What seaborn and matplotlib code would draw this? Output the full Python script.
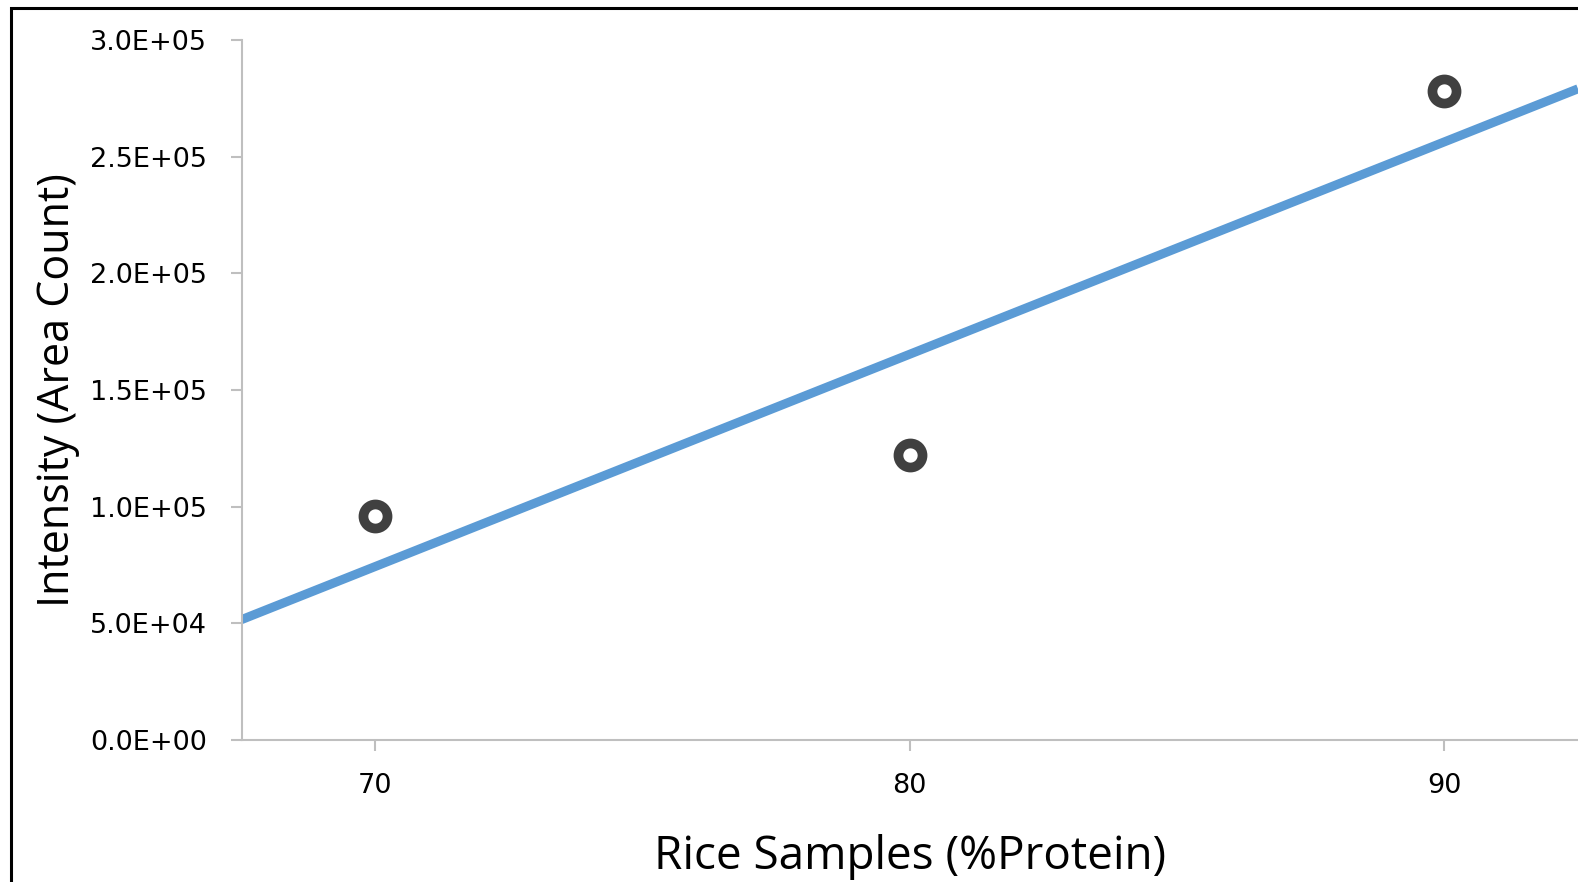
import matplotlib
matplotlib.use("Agg")
import matplotlib.pyplot as plt
from matplotlib.patches import Rectangle
from matplotlib.ticker import FuncFormatter
import seaborn as sns
import pandas as pd

protein = [70, 80, 90]
intensity = [96000, 122000, 278000]
x_ticks = [70, 80, 90]
y_ticks = [0, 50000, 100000, 150000, 200000, 250000, 300000]

df = pd.DataFrame({"protein": protein, "intensity": intensity})

sns.set_style("white")
plt.rcParams["font.family"] = ["Open Sans", "DejaVu Sans"]

fig = plt.figure(figsize=(15.78, 8.82), dpi=100)
ax = fig.add_axes([241.5 / 1578, 1 - 740 / 882, 1 - 241.5 / 1578, (740 - 40) / 882])

ax.set_xlim(67.5, 92.5)
ax.set_ylim(0, 300000)

# trend line across the whole axis, like an Excel linear trendline
sns.regplot(
    data=df,
    x="protein",
    y="intensity",
    scatter=False,
    ci=None,
    truncate=False,
    line_kws={"color": "#5b9bd5", "linewidth": 6.5, "solid_capstyle": "butt"},
    ax=ax,
)
sns.scatterplot(
    data=df,
    x="protein",
    y="intensity",
    s=300,
    color="white",
    edgecolor="#404040",
    linewidth=7,
    zorder=3,
    ax=ax,
)

ax.set_xlim(67.5, 92.5)
ax.set_ylim(0, 300000)
ax.set_xticks(x_ticks)
ax.set_yticks(y_ticks)
ax.yaxis.set_major_formatter(FuncFormatter(lambda v, p: "%.1E" % v))

for side in ["top", "right"]:
    ax.spines[side].set_visible(False)
for side in ["left", "bottom"]:
    ax.spines[side].set_color("#bfbfbf")
    ax.spines[side].set_linewidth(1.5)

ax.tick_params(axis="y", length=8, width=1.5, color="#bfbfbf", pad=17,
               labelsize=19.5, labelcolor="black", left=True)
ax.tick_params(axis="x", length=8, width=1.5, color="#bfbfbf", pad=16,
               labelsize=19.5, labelcolor="black", bottom=True)
for lbl in ax.get_xticklabels() + ax.get_yticklabels():
    lbl.set_family(["DejaVu Sans"])

ax.set_xlabel("Rice Samples (%Protein)", fontsize=33, labelpad=25, color="black")
ax.set_ylabel("Intensity (Area Count)", fontsize=31, labelpad=7, color="black")

# black frame around the chart
fig.patches.append(Rectangle((11 / 1578, -0.05), 1.2, 1.05 - 7.5 / 882,
                             transform=fig.transFigure, fill=False,
                             edgecolor="black", linewidth=2.2))

fig.savefig("out.png", dpi=100)
